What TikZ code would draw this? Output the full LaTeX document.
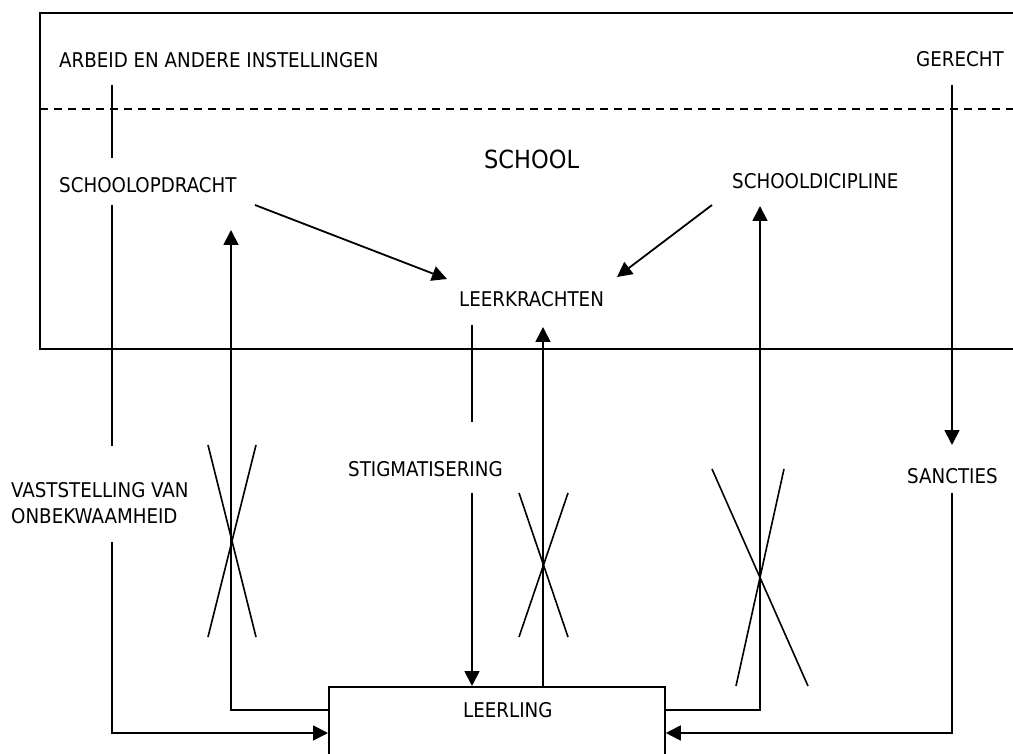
\documentclass[tikz,border=0pt]{standalone}
\usepackage{fontspec}
\setmainfont{DejaVu Sans Condensed}
\usetikzlibrary{arrows.meta}
\tikzset{
  lbl/.style={font=\fontsize{20.3}{25.5}\selectfont, inner sep=0pt, anchor=base west},
  big/.style={font=\fontsize{25}{28}\selectfont},
  ln/.style={line width=1.8pt},
  arr/.style={ln, -{Triangle[length=15pt,width=15pt]}},
  cross/.style={line width=1.6pt},
}
\begin{document}
\begin{tikzpicture}[x=1pt,y=-1pt]
\useasboundingbox (0,0) rectangle (1013,754);
% outer frame (open at right)
\draw[ln] (1013,13) -- (40,13) -- (40,349) -- (1013,349);
\draw[line width=1.4pt, dash pattern=on 8pt off 6pt] (40,109) -- (1013,109);

% texts
\node[lbl] (arbeid) at (59,68) {ARBEID EN ANDERE INSTELLINGEN};
\node[lbl] (gerecht) at (916,67) {GERECHT};
\node[lbl,big] (school) at (484,169) {SCHOOL};
\node[lbl] (opdracht) at (59,193) {SCHOOLOPDRACHT};
\node[lbl] (discipline) at (732,189) {SCHOOLDICIPLINE};
\node[lbl] (leerkrachten) at (459,307) {LEERKRACHTEN};
\node[lbl] (stigma) at (348,476) {STIGMATISERING};
\node[lbl] (sancties) at (907,483) {SANCTIES};
\node[lbl, anchor=west, align=left] (vast) at (11,503) {VASTSTELLING VAN\\ONBEKWAAMHEID};

% LEERLING box (open at bottom)
\node[draw, ln, anchor=north west, minimum width=336pt, minimum height=120pt, inner sep=0pt] (leerling) at (328,686) {};
\node[lbl] (leerlingtxt) at (463,717) {LEERLING};

% named points
\coordinate (a1) at (112,85);
\coordinate (a2) at (112,158);
\coordinate (a3) at (112,205);
\coordinate (a4) at (112,446);
\coordinate (a5) at (112,542);
\coordinate (a6) at (112,733);
\coordinate (b1) at (231,710);
\coordinate (b2) at (231,230);
\coordinate (c1) at (472,325);
\coordinate (c2) at (472,422);
\coordinate (c3) at (472,493);
\coordinate (d1) at (543,327);
\coordinate (e1) at (760,710);
\coordinate (e2) at (760,206);
\coordinate (g1) at (952,85);
\coordinate (g2) at (952,445);
\coordinate (g3) at (952,493);
\coordinate (g4) at (952,733);
\coordinate (o1) at (255,205);
\coordinate (o2) at (447,279);
\coordinate (s1) at (712,205);
\coordinate (s2) at (617,277);

% left column: arbeid -> schoolopdracht -> vaststelling -> leerling
\draw[ln] (a1) -- (a2);
\draw[ln] (a3) -- (a4);
\draw[arr] (a5) -- (a6) -- (a6 -| leerling.west);

% diagonal arrows to leerkrachten
\draw[arr] (o1) -- (o2);
\draw[arr] (s1) -- (s2);

% leerling -> schoolopdracht
\draw[arr] (b1 -| leerling.west) -- (b1) -- (b2);
% leerkrachten -> stigmatisering -> leerling
\draw[ln] (c1) -- (c2);
\draw[arr] (c3) -- (c3 |- leerling.north);
% leerling -> leerkrachten
\draw[arr] (d1 |- leerling.north) -- (d1);
% leerling -> schooldicipline
\draw[arr] (e1 -| leerling.east) -- (e1) -- (e2);
% gerecht -> sancties -> leerling
\draw[arr] (g1) -- (g2);
\draw[arr] (g3) -- (g4) -- (g4 -| leerling.east);

% crosses
\draw[cross] (208,445) -- (256,637);
\draw[cross] (256,445) -- (208,637);
\draw[cross] (519,493) -- (568,637);
\draw[cross] (568,493) -- (519,637);
\draw[cross] (712,469) -- (808,686);
\draw[cross] (784,469) -- (736,686);
\end{tikzpicture}
\end{document}
